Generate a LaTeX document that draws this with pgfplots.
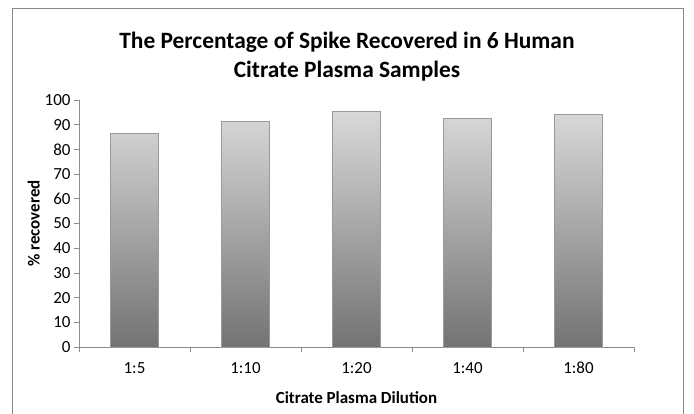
\documentclass[border=0pt]{standalone}
\usepackage{fontspec}
\setmainfont{Carlito}
\usepackage{pgfplots}
\pgfplotsset{compat=1.18}
\definecolor{axgray}{HTML}{8C8C8C}
\definecolor{frame}{HTML}{8A8A8A}
\begin{document}
\begin{tikzpicture}[x=1bp,y=1bp]
\useasboundingbox (0,0) rectangle (694,413);
\begin{scope}
\clip (0,0) rectangle (694,413);
\draw[frame, line width=1bp] (12,-20) rectangle (683,404);
\end{scope}
\node[font=\fontsize{23.5}{29}\selectfont\bfseries, align=center, anchor=center] at (347,356) {The Percentage of Spike Recovered in 6 Human\\Citrate Plasma Samples};
\begin{axis}[
  at={(79bp,66bp)}, anchor=south west,
  scale only axis, width=555bp, height=247bp,
  xmin=-0.5, xmax=4.5, ymin=0, ymax=100,
  axis x line*=bottom, axis y line*=left,
  axis line style={axgray, line width=0.8bp},
  every tick/.style={axgray, line width=0.8bp},
  tick align=outside,
  xtick={0,1,2,3,4},
  xticklabels={1:5,1:10,1:20,1:40,1:80},
  major x tick style={draw=none},
  minor xtick={-0.5,0.5,1.5,2.5,3.5,4.5},
  minor tick length=5bp,
  ytick={0,10,...,100},
  major tick length=5bp,
  /pgf/number format/assume math mode=true,
  ticklabel style={font=\fontsize{17}{20}\selectfont, text=black},
  xticklabel style={yshift=-6bp, text height=12bp, text depth=3bp},
  xlabel={Citrate Plasma Dilution},
  ylabel={\% recovered},
  label style={font=\fontsize{17}{20}\selectfont\bfseries},
  xlabel style={yshift=-8bp},
  ylabel style={yshift=-2bp},
]
\addplot[ybar, bar width=47.6bp, draw=gray!80, line width=0.6bp,
  top color=black!15, bottom color=black!55]
  coordinates {(0,86.5) (1,91.2) (2,95.3) (3,92.6) (4,94.1)};
\end{axis}
\end{tikzpicture}
\end{document}
